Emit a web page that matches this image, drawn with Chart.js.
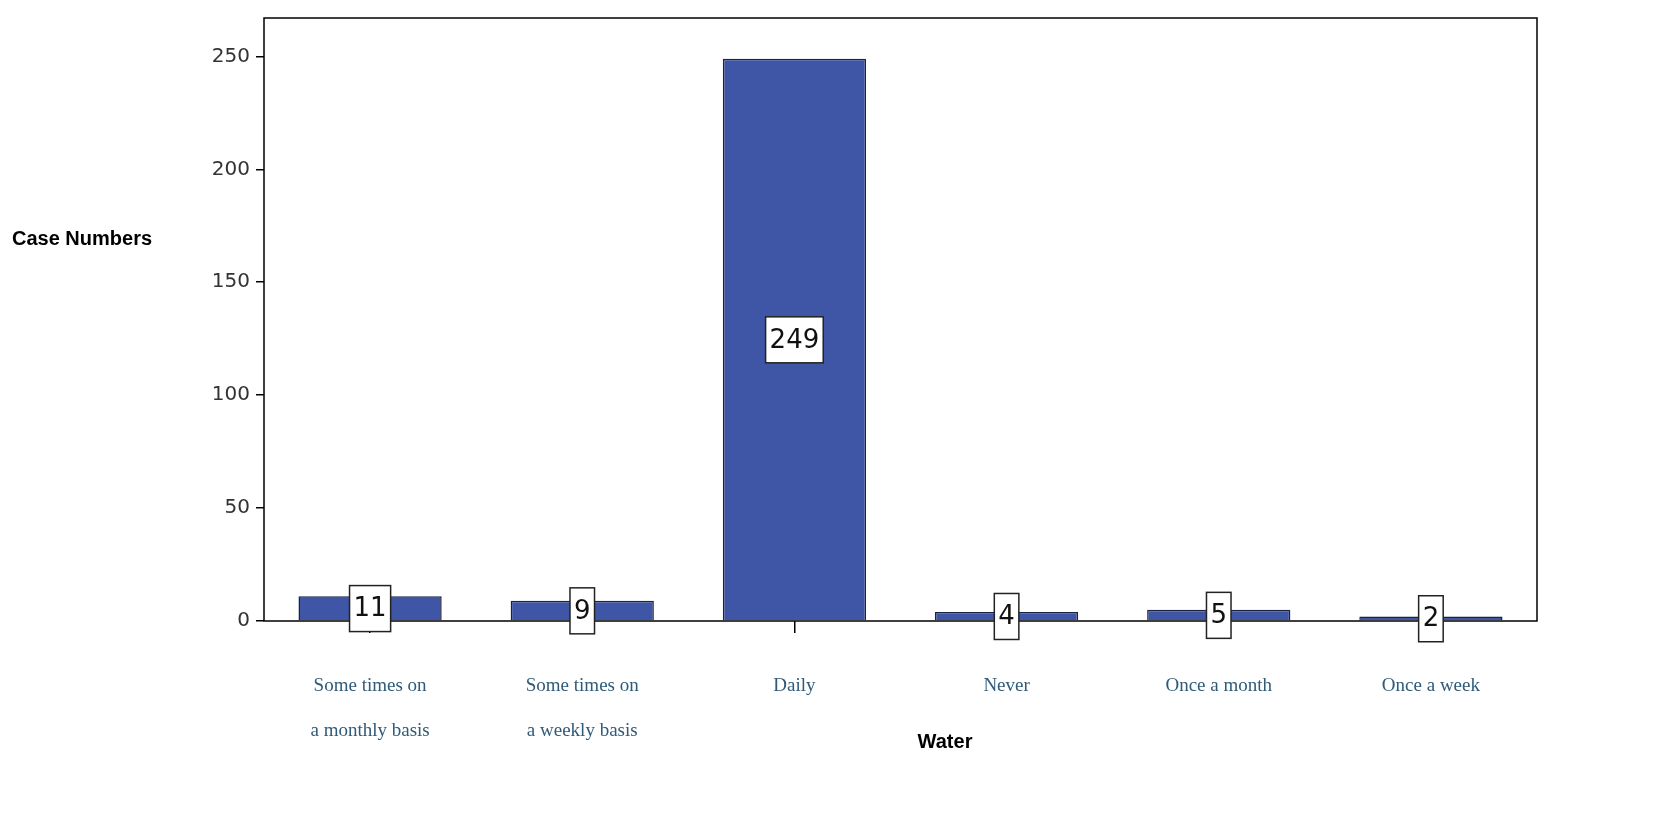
<!DOCTYPE html>
<html lang="en">
<head>
    <script src="https://cdn.jsdelivr.net/npm/chart.js@4.4.0/dist/chart.umd.min.js"></script>
    <style>
        body { margin: 0; background: #fff; }
        #wrap { width: 1664px; height: 821px; }
    </style>
</head>
<body>
    <div id="wrap"><canvas id="waterChart"></canvas></div>
    <script>
        const categories = [
            ['Some times on', 'a monthly basis'],
            ['Some times on', 'a weekly basis'],
            'Daily', 'Never', 'Once a month', 'Once a week'
        ];
        const caseNumbers = [11, 9, 249, 4, 5, 2];
        const yTicks = [0, 50, 100, 150, 200, 250];

        // white boxed value labels, frame and axis titles
        const decor = {
            id: 'decor',
            afterDatasetsDraw(chart) {
                const c = chart.ctx, a = chart.chartArea;
                const xs = chart.scales.x, ys = chart.scales.y;
                c.save();
                c.strokeStyle = '#000';
                c.lineWidth = 1.5;
                c.strokeRect(a.left, a.top, a.right - a.left, a.bottom - a.top);
                c.font = '26px "DejaVu Sans"';
                c.textAlign = 'center';
                c.textBaseline = 'middle';
                caseNumbers.forEach((v, i) => {
                    const x = xs.getPixelForValue(i);
                    const y = ys.getPixelForValue(v / 2);
                    const w = c.measureText(String(v)).width + 8, h = 46;
                    c.fillStyle = '#fff';
                    c.fillRect(x - w / 2, y - h / 2, w, h);
                    c.strokeStyle = '#222';
                    c.lineWidth = 1.5;
                    c.strokeRect(x - w / 2, y - h / 2, w, h);
                    c.fillStyle = '#111';
                    c.fillText(String(v), x, y + 1);
                });
                c.font = 'bold 20px "Liberation Sans"';
                c.fillStyle = '#000';
                c.textAlign = 'left';
                c.fillText('Case Numbers', 12, 239);
                c.textAlign = 'center';
                c.fillText('Water', 945, 742);
                c.restore();
            }
        };

        new Chart(document.getElementById('waterChart'), {
            type: 'bar',
            data: {
                labels: categories,
                datasets: [{
                    data: caseNumbers,
                    backgroundColor: '#3f56a6',
                    borderColor: '#1a2340',
                    borderWidth: 1.5,
                    categoryPercentage: 1.0,
                    barPercentage: 0.675
                }]
            },
            plugins: [decor],
            options: {
                responsive: true,
                maintainAspectRatio: false,
                animation: false,
                layout: { padding: { top: 12, right: 127, left: 0, bottom: 0 } },
                plugins: { legend: { display: false }, tooltip: { enabled: false } },
                scales: {
                    x: {
                        grid: { display: true, drawOnChartArea: false, drawTicks: true, tickLength: 12, color: '#000', lineWidth: 1.5, offset: false },
                        border: { display: false },
                        ticks: {
                            padding: 30,
                            color: '#2f5a78',
                            font: { family: '"Liberation Serif"', size: 19, lineHeight: 2.4 }
                        },
                        afterFit(s) { s.height = 200; }
                    },
                    y: {
                        min: 0,
                        max: 267,
                        afterBuildTicks(s) { s.ticks = yTicks.map(v => ({ value: v })); },
                        grid: { display: true, drawOnChartArea: false, drawTicks: true, tickLength: 8, color: '#000', lineWidth: 1.5 },
                        border: { display: false },
                        ticks: {
                            padding: 6,
                            color: '#333',
                            font: { family: '"DejaVu Sans"', size: 20 }
                        },
                        afterFit(s) { s.width = 264; }
                    }
                }
            }
        });
    </script>
</body>
</html>
